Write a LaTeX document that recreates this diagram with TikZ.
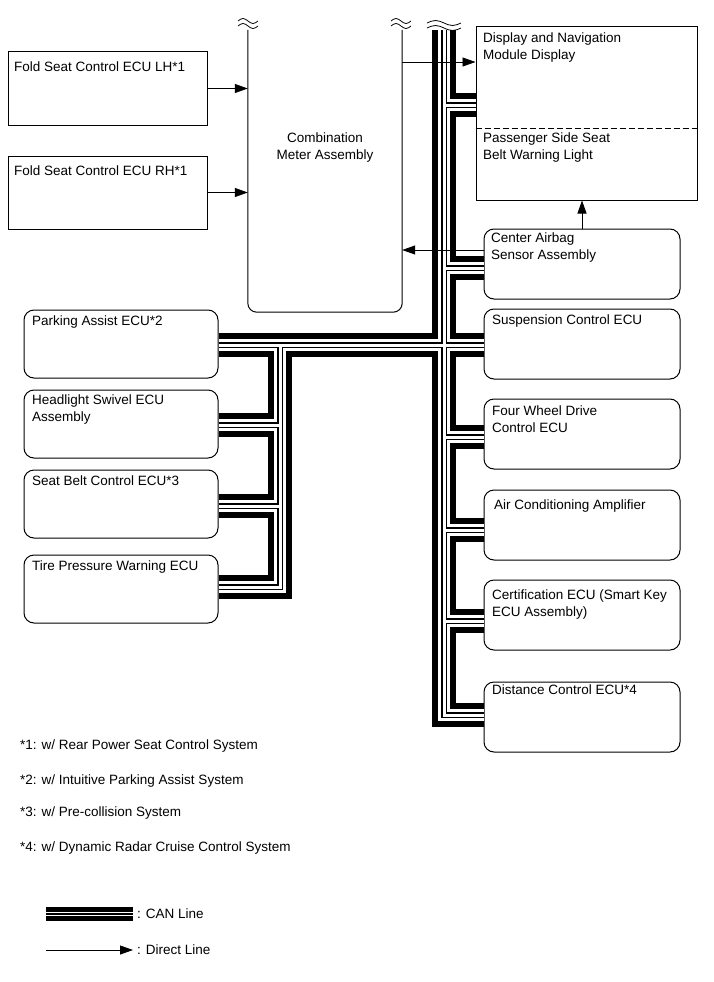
\documentclass[tikz,border=0pt]{standalone}
\usepackage{fontspec}
\setmainfont{Liberation Sans}
\usetikzlibrary{arrows.meta}
\newcommand\breakmark[3]{%
	\draw[line width=0.8pt] (#1-#3,#2) sin (#1-#3/2,#2-2.5) cos (#1,#2) sin (#1+#3/2,#2+2.5) cos (#1+#3,#2);
	\draw[line width=0.8pt] (#1-#3,#2+5) sin (#1-#3/2,#2+2.5) cos (#1,#2+5) sin (#1+#3/2,#2+7.5) cos (#1+#3,#2+5);}
\begin{document}
\begin{tikzpicture}[x=1pt,y=-1pt,
		every node/.style={font=\fontsize{13.5}{17}\selectfont},
		box/.style={draw,line width=1pt,minimum width=196pt,minimum height=70pt,inner sep=0pt,rounded corners=10pt},
		lbox/.style={box,minimum width=194pt,minimum height=68pt},
		txt/.style={anchor=north west,align=left,inner sep=0pt},
		arr/.style={line width=0.8pt,-{Triangle[length=13pt,width=9pt]}}]
		\useasboundingbox (0,0) rectangle (713,982);
		\node[box,sharp corners,minimum width=199pt,minimum height=73pt] (lh) at (107.5,88.5) {};
		\node[box,sharp corners,minimum width=199pt,minimum height=73pt] (rh) at (107.5,192.5) {};
		\node[minimum width=154pt,minimum height=282pt,inner sep=0pt] (comb) at (325,171) {};
		\draw[line width=1pt,rounded corners=9pt] (comb.north west) -- (comb.south west) -- (comb.south east) -- (comb.north east);
		\node[box,sharp corners,minimum width=221pt,minimum height=173pt] (disp) at (586.5,113.5) {};
		\draw[line width=0.8pt,dash pattern=on 6pt off 3pt] (disp.west |- 0,128) -- (disp.east |- 0,128);
		\node[box] (airbag) at (582,264) {};
		\node[box] (susp) at (582,344) {};
		\node[box] (fwd) at (582,434) {};
		\node[box] (ac) at (582,525) {};
		\node[box] (cert) at (582,615) {};
		\node[box] (dist) at (582,717) {};
		\node[lbox] (park) at (121,344) {};
		\node[lbox] (head) at (121,424) {};
		\node[lbox] (belt) at (121,504) {};
		\node[lbox] (tire) at (121,589) {};
		\node[txt] (lhtxt) at (14,62) {Fold Seat Control ECU LH*1};
		\node[txt] (rhtxt) at (14,166) {Fold Seat Control ECU RH*1};
		\node[align=center,inner sep=0pt] (combtxt) at (325,148) {Combination\\Meter Assembly};
		\node[txt] (disptxt) at (483,33) {Display and Navigation\\Module Display};
		\node[txt] (pastxt) at (483,133) {Passenger Side Seat\\Belt Warning Light};
		\node[txt] (airbagtxt) at (491,233) {Center Airbag\\Sensor Assembly};
		\node[txt] (susptxt) at (492,315) {Suspension Control ECU};
		\node[txt] (fwdtxt) at (492,406) {Four Wheel Drive\\Control ECU};
		\node[txt] (actxt) at (494,500) {Air Conditioning Amplifier};
		\node[txt] (certtxt) at (492,590) {Certification ECU (Smart Key\\ECU Assembly)};
		\node[txt] (disttxt) at (492,685) {Distance Control ECU*4};
		\node[txt] (parktxt) at (32,316) {Parking Assist ECU*2};
		\node[txt] (headtxt) at (32,395) {Headlight Swivel ECU\\Assembly};
		\node[txt] (belttxt) at (32,476) {Seat Belt Control ECU*3};
		\node[txt] (tiretxt) at (32,561) {Tire Pressure Warning ECU};
		\node[txt] (note1) at (20,740) {*1: w/ Rear Power Seat Control System};
		\node[txt] (note2) at (20,775) {*2: w/ Intuitive Parking Assist System};
		\node[txt] (note3) at (20,807) {*3: w/ Pre-collision System};
		\node[txt] (note4) at (20,842) {*4: w/ Dynamic Radar Cruise Control System};
		\coordinate (ttop) at (444,30);
		\coordinate (jdisp) at (444,105);
		\coordinate (jair) at (444,268);
		\coordinate (jsusp) at (444,345);
		\coordinate (jfwd) at (444,437);
		\coordinate (jac) at (444,530);
		\coordinate (jcert) at (444,621);
		\coordinate (jdist) at (444,715);
		\coordinate (jleft) at (280,345);
		\coordinate (jhead) at (280,425);
		\coordinate (jbelt) at (280,506);
		\coordinate (jtire) at (280,587);
		\foreach \lw/\lc in {24/black,12/white,6/black,3/white}
			\draw[line width=\lw pt,\lc] (ttop) -- (jdist) -- (jdist -| dist.west)
				(jdisp) -- (jdisp -| disp.west)
				(jair) -- (jair -| airbag.west)
				(park.east |- jsusp) -- (jsusp -| susp.west)
				(jfwd) -- (jfwd -| fwd.west)
				(jac) -- (jac -| ac.west)
				(jcert) -- (jcert -| cert.west)
				(jleft) -- (jtire) -- (jtire -| tire.east)
				(jhead) -- (jhead -| head.east)
				(jbelt) -- (jbelt -| belt.east);
		\breakmark{248}{21}{10}
		\breakmark{401}{21}{10}
		\breakmark{444}{23}{17}
		\draw[arr] (lh.east) -- (lh.east -| comb.west);
		\draw[arr] (rh.east) -- (rh.east -| comb.west);
		\draw[arr] (comb.east |- 0,62) -- (disp.west |- 0,62);
		\draw[arr] (airbag.west |- 0,250) -- (comb.east |- 0,250);
		\draw[arr] (airbag.north) -- (airbag.north |- disp.south);
		\node[anchor=west,inner sep=0pt] (cantxt) at (137,914) {: CAN Line};
		\node[anchor=west,inner sep=0pt] (dirtxt) at (137,950) {: Direct Line};
		\coordinate (cana) at (46,914);
		\coordinate (dira) at (46,950);
		\foreach \lw/\lc in {14.5/black,4.2/white,1.4/black}
			\draw[line width=\lw pt,\lc] (cana) -- ([xshift=-4pt]cantxt.west);
		\draw[arr] (dira) -- ([xshift=-4pt]dirtxt.west);
\end{tikzpicture}
\end{document}
